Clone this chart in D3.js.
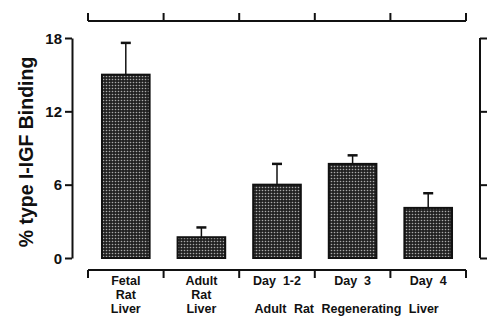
<!DOCTYPE html>
<html lang="en">
<head>
<meta charset="UTF-8">
<title>% type I-IGF Binding</title>
<style>
  body { margin: 0; background: #fff; }
  svg { display: block; }
  .lbl { font-family: "Liberation Sans", Arial, sans-serif; font-weight: bold; fill: #111; }
</style>
</head>
<body>
<script src="https://d3js.org/d3.v7.min.js"></script>
<script>
const width = 487;
const height = 318;

// data
const categories = ["Fetal Rat Liver", "Adult Rat Liver", "Day 1-2", "Day 3", "Day 4"];
const catLines = [["Fetal", "Rat", "Liver"], ["Adult", "Rat", "Liver"], ["Day  1-2"], ["Day  3"], ["Day  4"]];
const values = [15.0, 1.7, 6.0, 7.7, 4.1];
const errors = [2.6, 0.8, 1.7, 0.7, 1.2];
const yTicks = [0, 6, 12, 18];

const svg = d3.select("body").append("svg").attr("width", width).attr("height", height);

// dotted fill for bars
const defs = svg.append("defs");
const pat = defs.append("pattern").attr("id", "dots")
  .attr("patternUnits", "userSpaceOnUse").attr("width", 3).attr("height", 3);
pat.append("rect").attr("width", 3).attr("height", 3).attr("fill", "#222");
pat.append("circle").attr("cx", 1.5).attr("cy", 1.5).attr("r", 0.8).attr("fill", "#aaa");

const x = d3.scaleBand().domain(categories).range([88, 466]).paddingInner(0.37).paddingOuter(0.185);
const y = d3.scaleLinear().domain([0, 18]).range([258, 38]);

// y axis
const yAxis = svg.append("g").attr("transform", "translate(72,0)")
  .call(d3.axisLeft(y).tickValues(yTicks).tickSize(7).tickSizeOuter(0));
yAxis.select(".domain").attr("stroke", "#111").attr("stroke-width", 2);
yAxis.selectAll(".tick line").attr("stroke", "#111").attr("stroke-width", 2);
yAxis.selectAll(".tick text").attr("class", "lbl").attr("font-size", 15).attr("x", -10).attr("dy", "0.35em");

svg.append("text").attr("class", "lbl")
  .attr("transform", "translate(33,152) rotate(-90)")
  .attr("text-anchor", "middle").attr("font-size", 19.5)
  .text("% type I-IGF Binding");

// right axis (neighbouring panel)
const rAxis = svg.append("g").attr("transform", "translate(480,0)")
  .call(d3.axisRight(y).tickValues(yTicks).tickSize(7).tickFormat(""));
rAxis.select(".domain").attr("stroke", "none");
rAxis.selectAll(".tick line").attr("stroke", "#111").attr("stroke-width", 2);
rAxis.append("line").attr("y1", y(18)).attr("y2", y(0)).attr("stroke", "#111").attr("stroke-width", 2);

// brackets top and bottom
const edges = categories.map(c => x(c) - x.step() * x.paddingInner() / 2).concat([466]);
function bracket(yy, dir) {
  const g = svg.append("g");
  g.append("line").attr("x1", edges[0]).attr("x2", edges[edges.length - 1])
    .attr("y1", yy).attr("y2", yy).attr("stroke", "#111").attr("stroke-width", 2);
  g.selectAll("line.t").data(edges).enter().append("line").attr("class", "t")
    .attr("x1", d => d).attr("x2", d => d)
    .attr("y1", yy).attr("y2", yy + dir * 8)
    .attr("stroke", "#111").attr("stroke-width", 2);
}
bracket(21, -1);
bracket(270, 1);

// bars
svg.selectAll("rect.bar").data(values).enter().append("rect").attr("class", "bar")
  .attr("x", (d, i) => x(categories[i]))
  .attr("y", d => y(d))
  .attr("width", x.bandwidth())
  .attr("height", d => y(0) - y(d))
  .attr("fill", "url(#dots)")
  .attr("stroke", "#111").attr("stroke-width", 2);

// error bars
const eb = svg.selectAll("g.err").data(values).enter().append("g").attr("class", "err");
eb.append("line")
  .attr("x1", (d, i) => x(categories[i]) + x.bandwidth() / 2)
  .attr("x2", (d, i) => x(categories[i]) + x.bandwidth() / 2)
  .attr("y1", d => y(d)).attr("y2", (d, i) => y(d + errors[i]))
  .attr("stroke", "#111").attr("stroke-width", 1.5);
eb.append("line")
  .attr("x1", (d, i) => x(categories[i]) + x.bandwidth() / 2 - 5)
  .attr("x2", (d, i) => x(categories[i]) + x.bandwidth() / 2 + 5)
  .attr("y1", (d, i) => y(d + errors[i])).attr("y2", (d, i) => y(d + errors[i]))
  .attr("stroke", "#111").attr("stroke-width", 2.5);

// category labels
catLines.forEach((lines, i) => {
  lines.forEach((t, k) => {
    svg.append("text").attr("class", "lbl")
      .attr("x", x(categories[i]) + x.bandwidth() / 2)
      .attr("y", 285 + k * 14)
      .attr("text-anchor", "middle").attr("font-size", 12.5)
      .style("white-space", "pre")
      .text(t);
  });
});

svg.append("text").attr("class", "lbl")
  .attr("x", (x("Day 1-2") + x("Day 4") + x.bandwidth()) / 2 - 6)
  .attr("y", 313).attr("text-anchor", "middle").attr("font-size", 12.5)
  .attr("word-spacing", 4)
  .text("Adult Rat Regenerating Liver");
</script>
</body>
</html>
